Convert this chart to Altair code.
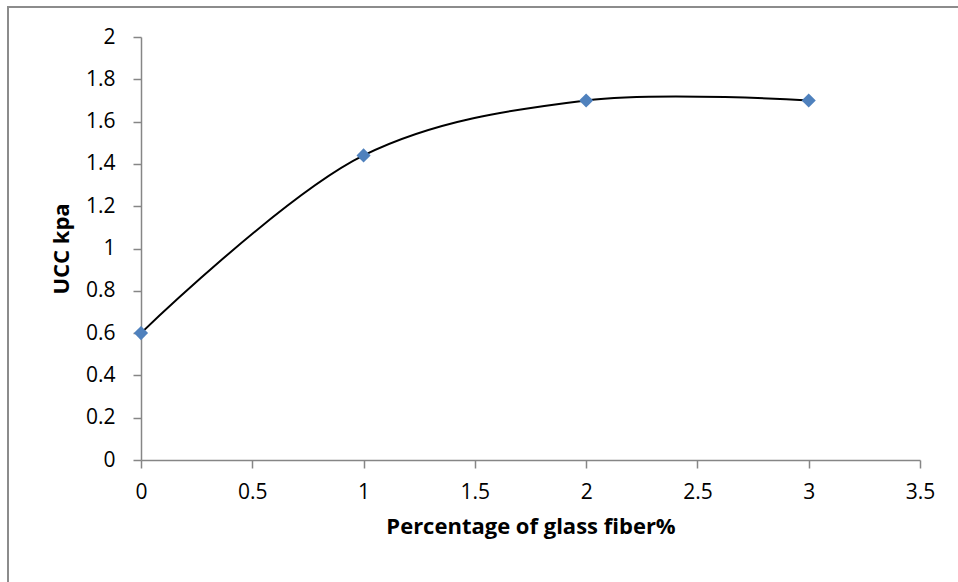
import altair as alt
import pandas as pd

fiber_pct = [0, 1, 2, 3]
ucc_kpa = [0.6, 1.44, 1.7, 1.7]
x_ticks = [0, 0.5, 1, 1.5, 2, 2.5, 3, 3.5]
y_ticks = [0, 0.2, 0.4, 0.6, 0.8, 1, 1.2, 1.4, 1.6, 1.8, 2]

df = pd.DataFrame({"x": fiber_pct, "y": ucc_kpa})

FONT = "Open Sans"
AX = "#868686"

xs = alt.X("x:Q", scale=alt.Scale(domain=[0, 3.5], nice=False),
           axis=alt.Axis(values=x_ticks, format="~g", title="Percentage of glass fiber%",
                         grid=False, domainColor=AX, domainWidth=1.5, tickColor=AX,
                         tickWidth=1.5, tickSize=8, labelPadding=13, labelFontSize=21,
                         labelFont=FONT, labelColor="black", titleFont=FONT,
                         titleFontSize=22, titleFontWeight="bold", titleColor="black",
                         titlePadding=14, labelFlush=False))
ys = alt.Y("y:Q", scale=alt.Scale(domain=[0, 2], nice=False),
           axis=alt.Axis(values=y_ticks, format="~g", title="UCC kpa",
                         grid=False, domainColor=AX, domainWidth=1.5, tickColor=AX,
                         tickWidth=1.5, tickSize=8, labelPadding=18, labelFontSize=21,
                         labelFont=FONT, labelColor="black", titleFont=FONT,
                         titleFontSize=22, titleFontWeight="bold", titleColor="black",
                         titlePadding=12))

line = alt.Chart(df).mark_line(interpolate="catmull-rom", color="black",
                               strokeWidth=2).encode(x=xs, y=ys)
pts = alt.Chart(df).mark_point(shape="diamond", filled=True, size=200,
                               color="#4F81BD", opacity=1).encode(x="x:Q", y="y:Q")

frame = alt.Chart(pd.DataFrame({"a": [0]})).mark_rect(
    fill=None, stroke="#8c8c8c", strokeWidth=2, clip=False
).encode(x=alt.value(-133), x2=alt.value(830), y=alt.value(-30), y2=alt.value(140 + 423))

chart = alt.layer(frame, line, pts).properties(
    width=779, height=423,
    autosize=alt.AutoSizeParams(type="none"),
    padding={"left": 141, "top": 37, "right": 38, "bottom": 122},
    background="white",
).configure_view(stroke=None)

chart.save("out.html", embed_options={"renderer": "svg", "actions": False})
